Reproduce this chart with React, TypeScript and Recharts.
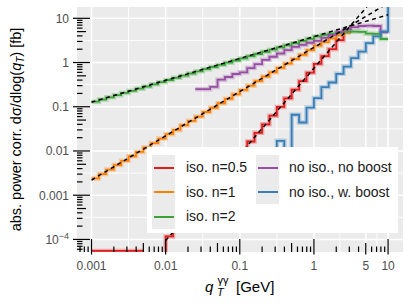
import React from "react";
import { LineChart, Line, XAxis, YAxis, CartesianGrid, Legend, Label } from "recharts";

// bin edges in q_T (10 bins per decade); last entry closes the final bin
const EDGES = [
  0.001, 0.00126, 0.00158, 0.002, 0.00251, 0.00316, 0.00398, 0.00501, 0.00631, 0.00794,
  0.01, 0.0126, 0.0158, 0.02, 0.0251, 0.0316, 0.0398, 0.0501, 0.0631, 0.0794,
  0.1, 0.126, 0.158, 0.2, 0.251, 0.316, 0.398, 0.501, 0.631, 0.794,
  1, 1.26, 1.58, 2, 2.51, 3.16, 3.98, 5.01, 6.31, 7.94, 10,
];

const ISO_05 = [
  5.5e-5, 5.5e-5, 5.5e-5, 5.5e-5, 5.5e-5, 5.5e-5, 5.5e-5, 5.5e-5, null, 1e-6,
  1.17e-4, 1.84e-4, 2.9e-4, 4.5e-4, 7.1e-4, 1.11e-3, 1.74e-3, 2.7e-3, 4.3e-3, 6.7e-3,
  0.0105, 0.0164, 0.0257, 0.04, 0.063, 0.099, 0.155, 0.243, 0.38, 0.59,
  0.93, 1.4, 2.0, 3.2, 4.9, 4.9, null, null, null, null, null,
];

const ISO_1 = [
  0.0024, 0.003, 0.0038, 0.0048, 0.006, 0.0076, 0.0095, 0.012, 0.0151, 0.0191,
  0.024, 0.03, 0.038, 0.048, 0.06, 0.076, 0.095, 0.12, 0.151, 0.191,
  0.24, 0.3, 0.38, 0.48, 0.6, 0.76, 0.95, 1.2, 1.5, 1.9,
  2.4, 2.9, 3.5, 4.1, 4.8, 4.8, null, null, null, null, null,
];

const ISO_2 = [
  0.13, 0.146, 0.163, 0.183, 0.205, 0.229, 0.256, 0.287, 0.321, 0.36,
  0.403, 0.451, 0.505, 0.565, 0.632, 0.708, 0.793, 0.887, 0.993, 1.11,
  1.24, 1.39, 1.56, 1.75, 1.95, 2.19, 2.45, 2.74, 3.07, 3.44,
  3.9, 4.2, 4.5, 4.7, 4.95, 5.0, 4.95, 4.5, 4.45, 3.4, 3.4,
];

const NOISO_NOBOOST = [
  null, null, null, null, null, null, null, null, null, null,
  null, null, null, null, 0.25, 0.25, 0.28, 0.41, 0.47, 0.55,
  0.6, 0.75, 0.92, 1.15, 1.35, 1.6, 1.9, 2.25, 2.5, 2.8,
  3.1, 3.6, 4.2, 4.9, 5.6, 6.3, 6.7, 6.8, 6.7, 4.9, 4.9,
];

const NOISO_BOOST = [
  null, null, null, null, null, null, null, null, null, null,
  null, null, null, null, null, null, null, null, null, null,
  null, null, null, null, 0.003, 0.017, 0.004, 0.066, 0.044, 0.096,
  0.157, 0.278, 0.353, 0.556, 0.81, 1.26, 1.77, 2.75, 3.9, 5.0, 40,
];

// power-law expectations (dashed)
const FIT_05 = [{ q: 0.01, v: 9.4e-5 }, { q: 10, v: 66 }];
const FIT_1 = [{ q: 0.001, v: 0.0022 }, { q: 10, v: 22 }];
const FIT_2 = [{ q: 0.001, v: 0.127 }, { q: 10, v: 12 }];

const X_DOMAIN = [6.37e-4, 15.9];
const Y_DOMAIN = [5.2e-5, 18];

const X_LABEL_VALUES = [0.001, 0.01, 0.1, 1, 5, 10];
const X_LABELS = ["0.001", "0.01", "0.1", "1", "5", "10"];
const Y_LABEL_VALUES = [1e-4, 0.001, 0.01, 0.1, 1, 10];
const Y_LABELS = ["10^-4", "0.001", "0.01", "0.1", "1", "10"];

const X_MAJOR = [0.001, 0.01, 0.1, 1, 5, 10];
const X_MINOR = [0.00316, 0.0316, 0.316, 2.236, 7.071];
const Y_MAJOR = [1e-4, 0.001, 0.01, 0.1, 1, 10];
const Y_MINOR = [3.16e-4, 3.16e-3, 0.0316, 0.316, 3.16];

const COLORS = {
  red: "#E41A1C",
  orange: "#FF7F00",
  green: "#3BA338",
  purple: "#984EA3",
  blue: "#377EB8",
};

const SERIES = [
  { key: "iso05", values: ISO_05, color: COLORS.red, label: "iso. n=0.5" },
  { key: "iso1", values: ISO_1, color: COLORS.orange, label: "iso. n=1" },
  { key: "iso2", values: ISO_2, color: COLORS.green, label: "iso. n=2" },
  { key: "noBoost", values: NOISO_NOBOOST, color: COLORS.purple, label: "no iso., no boost" },
  { key: "boost", values: NOISO_BOOST, color: COLORS.blue, label: "no iso., w. boost" },
];

const data = EDGES.map((q, i) => {
  const row: Record<string, number | null> = { q };
  SERIES.forEach((s) => (row[s.key] = s.values[i]));
  return row;
});

function logTicks(lo: number, hi: number) {
  const out: number[] = [];
  for (let e = -6; e <= 2; e++) {
    for (let m = 1; m <= 9; m++) {
      const v = Number((m * Math.pow(10, e)).toPrecision(3));
      if (v >= lo && v <= hi) out.push(v);
    }
  }
  return out;
}

const X_TICKS = logTicks(X_DOMAIN[0], X_DOMAIN[1]);
const Y_TICKS = logTicks(Y_DOMAIN[0], Y_DOMAIN[1]);

const mantissa = (v: number) => Math.round(Number(v.toExponential().split("e")[0]));
const tickLen = (v: number) => {
  const m = mantissa(v);
  return m === 1 ? 13 : m === 5 ? 9 : 5.5;
};

const FONT = "'Liberation Sans', Arial, sans-serif";

const XTick = (props: any) => {
  const { x, y, payload } = props;
  const v = payload.value;
  const idx = X_LABEL_VALUES.indexOf(v);
  return (
    <g>
      <line x1={x} x2={x} y1={y + (idx >= 0 ? 2.5 : 0)} y2={y - tickLen(v)} stroke="#000" strokeWidth={1.2} />
      {idx >= 0 && (
        <text x={x} y={y + 17.5} textAnchor="middle" fontSize={12} fill="#4D4D4D" fontFamily={FONT}>
          {X_LABELS[idx]}
        </text>
      )}
    </g>
  );
};

const YTick = (props: any) => {
  const { x, y, payload } = props;
  const v = payload.value;
  const idx = Y_LABEL_VALUES.indexOf(v);
  const lab = idx >= 0 ? Y_LABELS[idx] : null;
  return (
    <g>
      <line x1={x - (idx >= 0 ? 4 : 0)} x2={x + tickLen(v)} y1={y} y2={y} stroke="#000" strokeWidth={1.2} />
      {lab && (
        <text x={x - 8} y={y + 4.3} textAnchor="end" fontSize={12} fill="#4D4D4D" fontFamily={FONT}>
          {lab.includes("^") ? (
            <>
              {lab.split("^")[0]}
              <tspan fontSize={9} dy={-5}>
                {"\u2212" + lab.split("^")[1].replace("-", "")}
              </tspan>
            </>
          ) : (
            lab
          )}
        </text>
      )}
    </g>
  );
};

const XTitle = (props: any) => {
  const { viewBox } = props;
  const cx = viewBox.x + viewBox.width / 2;
  const by = viewBox.y + 40;
  return (
    <g fontFamily={FONT} fill="#000">
      <text x={cx - 35} y={by} fontSize={15} fontStyle="italic">q</text>
      <text x={cx - 22.5} y={by - 8} fontSize={11}>γγ</text>
      <text x={cx - 23} y={by + 4} fontSize={11} fontStyle="italic">T</text>
      <text x={cx - 4} y={by} fontSize={15}>[GeV]</text>
    </g>
  );
};

const YTitle = (props: any) => {
  const { viewBox } = props;
  const cy = viewBox.y + viewBox.height / 2;
  return (
    <text
      transform={`translate(21, ${cy}) rotate(-90)`}
      textAnchor="middle"
      fontSize={14.5}
      fill="#000"
      fontFamily={FONT}
    >
      abs. power corr. dσ/dlog(
      <tspan fontStyle="italic">q</tspan>
      <tspan fontStyle="italic" fontSize={10} dy={3}>T</tspan>
      <tspan dy={-3}>) [fb]</tspan>
    </text>
  );
};

const LEGEND_COLS = [SERIES.slice(0, 3), SERIES.slice(3)];

const LegendBox = () => (
  <div style={{ position: "relative", width: 251, height: 86, background: "#fff", fontFamily: FONT }}>
    {LEGEND_COLS.map((col, ci) => (
      <div key={ci} style={{ position: "absolute", left: ci === 0 ? 5 : 109, top: 8 }}>
        {col.map((s) => (
          <div key={s.key} style={{ position: "relative", height: 24.6, width: 130 }}>
            <div style={{ position: "absolute", left: 0, top: 0, width: 23, height: 24.6, background: "#EBEBEB" }}>
              <div style={{ position: "absolute", left: 2, right: 1, top: 11.5, height: 2, background: s.color }} />
            </div>
            <span
              style={{
                position: "absolute",
                left: ci === 0 ? 34 : 33,
                top: 3,
                fontSize: 14,
                lineHeight: "18px",
                color: "#1A1A1A",
                whiteSpace: "nowrap",
              }}
            >
              {s.label}
            </span>
          </div>
        ))}
      </div>
    ))}
  </div>
);

export default function App() {
  return (
    <div style={{ position: "absolute", left: 0, top: 0, background: "#fff" }}>
      <LineChart
        width={411}
        height={308}
        data={data}
        margin={{ top: 7, right: 8, bottom: 0, left: 0 }}
        style={{ fontFamily: FONT }}
      >
        <CartesianGrid
          fill="#EBEBEB"
          stroke="#FFFFFF"
          strokeWidth={0.9}
          verticalValues={X_MINOR}
          horizontalValues={Y_MINOR}
        />
        <CartesianGrid
          stroke="#FFFFFF"
          strokeWidth={1.6}
          verticalValues={X_MAJOR}
          horizontalValues={Y_MAJOR}
        />
        {SERIES.map((s) => (
          <Line
            key={s.key + "-band"}
            type="stepAfter"
            dataKey={s.key}
            stroke={s.color}
            strokeOpacity={0.3}
            strokeWidth={4.5}
            dot={false}
            activeDot={false}
            legendType="none"
            isAnimationActive={false}
          />
        ))}
        {SERIES.map((s) => (
          <Line
            key={s.key}
            type="stepAfter"
            dataKey={s.key}
            stroke={s.color}
            strokeWidth={1.8}
            dot={false}
            activeDot={false}
            isAnimationActive={false}
          />
        ))}
        {[FIT_05, FIT_1, FIT_2].map((fit, i) => (
          <Line
            key={"fit" + i}
            data={fit}
            type="linear"
            dataKey="v"
            stroke="#000"
            strokeWidth={1.5}
            strokeDasharray="4 3.5"
            dot={false}
            activeDot={false}
            legendType="none"
            isAnimationActive={false}
          />
        ))}
        <XAxis
          dataKey="q"
          type="number"
          scale="log"
          domain={X_DOMAIN}
          allowDataOverflow
          ticks={X_TICKS}
          interval={0}
          tick={XTick}
          tickLine={false}
          axisLine={false}
          tickSize={0}
          tickMargin={0}
          height={56}
        >
          <Label content={XTitle} />
        </XAxis>
        <YAxis
          type="number"
          scale="log"
          domain={Y_DOMAIN}
          allowDataOverflow
          ticks={Y_TICKS}
          interval={0}
          tick={YTick}
          tickLine={false}
          axisLine={false}
          tickSize={0}
          tickMargin={0}
          width={77}
        >
          <Label content={YTitle} />
        </YAxis>
        <Legend
          content={() => <LegendBox />}
          layout="vertical"
          align="center"
          verticalAlign="middle"
          wrapperStyle={{ left: 147, top: 147, width: 251, height: 86 }}
        />
      </LineChart>
    </div>
  );
}
